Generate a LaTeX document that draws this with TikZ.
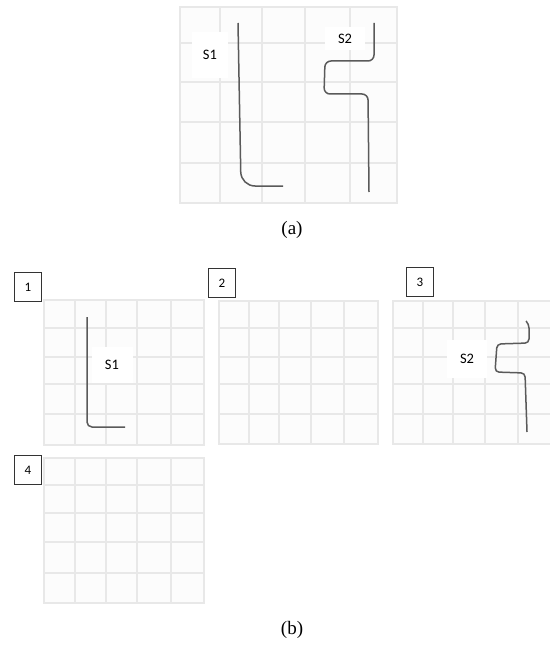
\documentclass[tikz,border=0pt]{standalone}
\usepackage{fontspec}
\setmainfont{Liberation Serif}
\newfontfamily\labelfont{Carlito}
\usetikzlibrary{positioning}
\definecolor{gline}{HTML}{E8E8E8}
\definecolor{gcell}{HTML}{FCFCFC}
\definecolor{pen}{HTML}{5A5A5A}

\begin{document}
\begin{tikzpicture}[
  x=1pt, y=-1pt,
  gridline/.style={draw=gline, line width=1.3pt},
  cellbg/.style={fill=gcell, draw=gline, line width=1.3pt},
  stroke/.style={draw=pen, line width=1.5pt, rounded corners=5pt},
  tag/.style={fill=white, inner sep=0pt, font=\labelfont\fontsize{14.5}{16}\selectfont},
  numbox/.style={draw=black!80, fill=white, line width=0.8pt, inner sep=0pt,
                 minimum width=27pt, minimum height=29pt,
                 font=\labelfont\fontsize{13}{15}\selectfont},
  subcap/.style={font=\fontsize{19}{21}\selectfont},
]
\useasboundingbox (0,0) rectangle (549,647);

% (a) top grid
\draw[cellbg] (180,7) rectangle (397,203);
\foreach \gx in {220,262,305,350} \draw[gridline] (\gx,7) -- (\gx,203);
\foreach \gy in {43,82,122,163} \draw[gridline] (180,\gy) -- (397,\gy);

\node[tag, minimum width=36pt, minimum height=46pt] (s1a) at (210,55) {S1};
\node[tag, minimum width=40pt, minimum height=23pt] (s2a) at (345,38.5) {S2};

\draw[stroke, rounded corners=14pt] (238,23) -- (241,186) -- (283,186);
\draw[stroke, rounded corners=6pt] (374,23) -- (374,61) -- (325,61)
  -- (324,94) -- (368,94) -- (369,192);

\node[subcap] (capa) at (292,230) {(a)};

% (b) panel 1
\draw[cellbg] (44,300) rectangle (204,445);
\foreach \gx in {75,106,137,171} \draw[gridline] (\gx,300) -- (\gx,445);
\foreach \gy in {328,357,384,414} \draw[gridline] (44,\gy) -- (204,\gy);
\node[tag, minimum width=41pt, minimum height=36pt] (s1b) at (112,365) {S1};
\draw[stroke] (87,317) -- (87,427) -- (125,427);
\node[numbox] (num1) at (28,287) {1};

% panel 2
\draw[cellbg] (219,301) rectangle (378,444);
\foreach \gx in {249,279,311,344} \draw[gridline] (\gx,301) -- (\gx,444);
\foreach \gy in {328,357,384,414} \draw[gridline] (219,\gy) -- (378,\gy);
\node[numbox] (num2) at (222,283) {2};

% panel 3
\draw[cellbg] (393,301) rectangle (551,444);
\foreach \gx in {423,453,485,518} \draw[gridline] (\gx,301) -- (\gx,444);
\foreach \gy in {328,357,384,414} \draw[gridline] (393,\gy) -- (551,\gy);
\node[tag, minimum width=40pt, minimum height=38pt] (s2b) at (467,359) {S2};
\draw[stroke, rounded corners=4pt] (526,321) -- (529,324) -- (529,343) -- (497,344)
  -- (495,372) -- (525,373) -- (527,432);
\node[numbox] (num3) at (420,282) {3};

% panel 4
\draw[cellbg] (44,458) rectangle (204,603);
\foreach \gx in {75,106,137,171} \draw[gridline] (\gx,458) -- (\gx,603);
\foreach \gy in {485,513,542,573} \draw[gridline] (44,\gy) -- (204,\gy);
\node[numbox] (num4) at (28,470) {4};

\node[subcap] (capb) at (292,630) {(b)};
\end{tikzpicture}
\end{document}
